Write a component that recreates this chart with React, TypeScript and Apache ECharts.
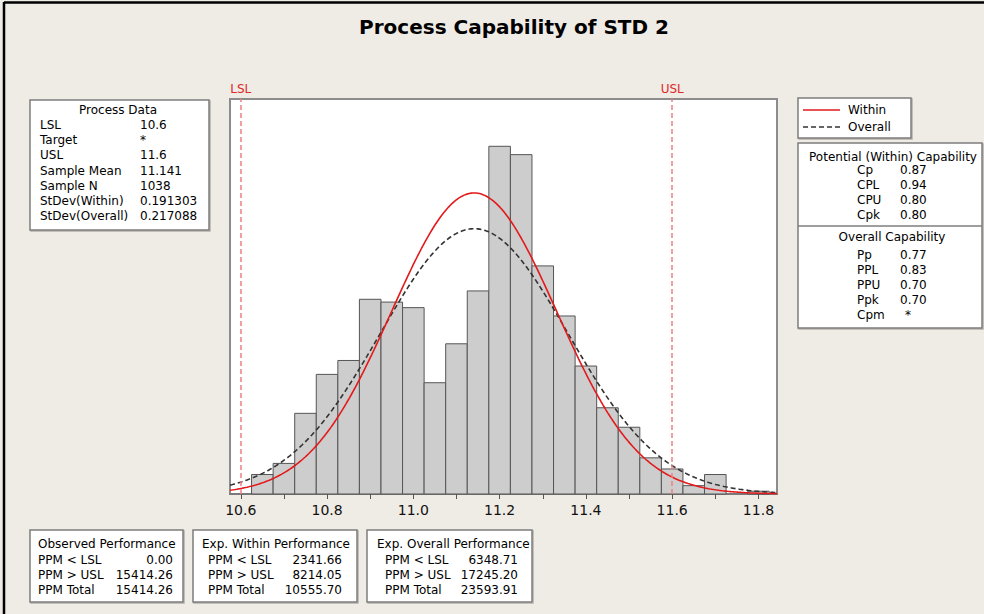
import React, { useEffect, useRef } from "react";
import * as echarts from "echarts";

// ---------- data ----------
const titleText = "Process Capability of STD 2";
const binWidth = 0.05;
const binCenters = [10.65, 10.7, 10.75, 10.8, 10.85, 10.9, 10.95, 11.0, 11.05, 11.1, 11.15, 11.2, 11.25, 11.3, 11.35, 11.4, 11.45, 11.5, 11.55, 11.6, 11.65, 11.7, 11.75, 11.8];
const binCounts = [7, 11, 29, 43, 48, 70, 69, 67, 40, 54, 73, 125, 122, 82, 64, 46, 31, 24, 13, 9, 3, 7, 0, 1];
const lsl = 10.6;
const usl = 11.6;
const sampleMean = 11.141;
const sampleN = 1038;
const stdevWithin = 0.191303;
const stdevOverall = 0.217088;
const xTickValues = [10.6, 10.7, 10.8, 10.9, 11.0, 11.1, 11.2, 11.3, 11.4, 11.5, 11.6, 11.7, 11.8];
const xLabelValues = [10.6, 10.8, 11.0, 11.2, 11.4, 11.6, 11.8];

const processDataLabels = ["LSL", "Target", "USL", "Sample Mean", "Sample N", "StDev(Within)", "StDev(Overall)"];
const processDataValues = ["10.6", "*", "11.6", "11.141", "1038", "0.191303", "0.217088"];
const legendNames = ["Within", "Overall"];
const potentialLabels = ["Cp", "CPL", "CPU", "Cpk"];
const potentialValues = ["0.87", "0.94", "0.80", "0.80"];
const overallLabels = ["Pp", "PPL", "PPU", "Ppk", "Cpm"];
const overallValues = ["0.77", "0.83", "0.70", "0.70", "*"];
const perfTitles = ["Observed Performance", "Exp. Within Performance", "Exp. Overall Performance"];
const perfLabels = ["PPM < LSL", "PPM > USL", "PPM Total"];
const observedPerf = ["0.00", "15414.26", "15414.26"];
const withinPerf = ["2341.66", "8214.05", "10555.70"];
const overallPerf = ["6348.71", "17245.20", "23593.91"];

// ---------- helpers ----------
const X_MIN = 10.575;
const X_MAX = 11.843;
const FONT = "DejaVu Sans";
const TXT = "#000";

function normalCurve(mu: number, s: number): number[][] {
  const k = (sampleN * binWidth) / (s * Math.sqrt(2 * Math.PI));
  const pts: number[][] = [];
  const steps = 320;
  for (let i = 0; i <= steps; i++) {
    const x = X_MIN + ((X_MAX - X_MIN) * i) / steps;
    const z = (x - mu) / s;
    pts.push([x, k * Math.exp(-0.5 * z * z)]);
  }
  return pts;
}

function txt(text: string, x: number, y: number, align: string = "left", extra: any = {}) {
  return {
    type: "text",
    x,
    y,
    silent: true,
    style: {
      text,
      fill: TXT,
      font: `12px '${FONT}'`,
      textAlign: align,
      textVerticalAlign: "middle",
      ...extra,
    },
  };
}

function box(x: number, y: number, w: number, h: number) {
  return {
    type: "rect",
    silent: true,
    shape: { x, y, width: w, height: h },
    style: { fill: "#ffffff", stroke: "#7e7e7e", lineWidth: 1.5, shadowColor: "rgba(0,0,0,0.25)", shadowOffsetX: 1, shadowOffsetY: 1, shadowBlur: 1 },
  };
}

function buildGraphics() {
  const g: any[] = [];
  // outer frame
  g.push({ type: "line", silent: true, shape: { x1: 4, y1: 2.5, x2: 984, y2: 2.5 }, style: { stroke: "#000", lineWidth: 2.5 } });
  g.push({ type: "line", silent: true, shape: { x1: 4, y1: 2, x2: 4, y2: 614 }, style: { stroke: "#000", lineWidth: 2.5 } });

  // Process Data box
  g.push(box(30, 100, 179, 130));
  g.push(txt("Process Data", 118, 110, "center"));
  processDataLabels.forEach((l, i) => {
    const y = 125 + i * 15.17;
    g.push(txt(l, 40, y));
    g.push(txt(processDataValues[i], 140, y));
  });

  // legend box
  g.push(box(798, 98, 113, 40));
  g.push({ type: "line", silent: true, shape: { x1: 803, y1: 110, x2: 840, y2: 110 }, style: { stroke: "#e31a1c", lineWidth: 1.5 } });
  g.push(txt(legendNames[0], 848, 110));
  g.push({ type: "line", silent: true, shape: { x1: 803, y1: 127, x2: 840, y2: 127 }, style: { stroke: "#333", lineWidth: 1.5, lineDash: [5, 3] } });
  g.push(txt(legendNames[1], 848, 127));

  // capability box
  g.push(box(798, 143, 184, 185));
  g.push({ type: "line", silent: true, shape: { x1: 798, y1: 226, x2: 982, y2: 226 }, style: { stroke: "#7e7e7e", lineWidth: 1.5 } });
  g.push(txt("Potential (Within) Capability", 893, 156.5, "center"));
  potentialLabels.forEach((l, i) => {
    const y = 170 + i * 15;
    g.push(txt(l, 857, y));
    g.push(txt(potentialValues[i], 900, y));
  });
  g.push(txt("Overall Capability", 892, 237, "center"));
  overallLabels.forEach((l, i) => {
    const y = 255 + i * 15;
    g.push(txt(l, 857, y));
    const v = overallValues[i];
    g.push(txt(v, v === "*" ? 908 : 900, y, v === "*" ? "center" : "left"));
  });

  // performance boxes
  const boxes = [
    { x: 30, w: 153, hx: 38, lx: 38, vx: 173, vals: observedPerf },
    { x: 193, w: 164, hx: 202, lx: 208, vx: 342, vals: withinPerf },
    { x: 367, w: 165, hx: 377, lx: 385, vx: 518, vals: overallPerf },
  ];
  boxes.forEach((b, bi) => {
    g.push(box(b.x, 530, b.w, 72));
    g.push(txt(perfTitles[bi], b.hx, 544));
    perfLabels.forEach((l, i) => {
      const y = 560 + i * 15;
      g.push(txt(l, b.lx, y));
      g.push(txt(b.vals[i], b.vx, y, "right"));
    });
  });
  return g;
}

export default function App() {
  const ref = useRef<HTMLDivElement>(null);
  useEffect(() => {
    if (!ref.current) return;
    const chart = echarts.init(ref.current, null, { renderer: "svg" });
    const histData = binCenters.map((c, i) => [c, binCounts[i]]);
    const option: any = {
      animation: false,
      backgroundColor: "#efebe5",
      title: {
        text: titleText,
        left: 509,
        textAlign: "center",
        top: 12,
        textStyle: { fontFamily: "DejaVu Sans", fontWeight: "bold", fontSize: 20, color: "#000" },
      },
      grid: {
        left: 230,
        top: 99,
        width: 547,
        height: 395,
        show: true,
        backgroundColor: "#ffffff",
        borderColor: "#8c8c8c",
        borderWidth: 2,
      },
      xAxis: {
        type: "value",
        min: X_MIN,
        max: X_MAX,
        splitLine: { show: false },
        axisLine: { show: true, lineStyle: { color: "#7a7a7a", width: 2 } },
        axisTick: { show: true, customValues: xTickValues, length: 5, lineStyle: { color: "#555" } },
        axisLabel: {
          customValues: xLabelValues,
          formatter: (v: number) => v.toFixed(1),
          fontFamily: FONT,
          fontSize: 14,
          color: "#111",
          margin: 9,
        },
      },
      yAxis: { type: "value", min: 0, max: 142, show: false, splitLine: { show: false } },
      series: [
        {
          type: "custom",
          name: "Histogram",
          data: histData,
          encode: { x: 0, y: 1 },
          z: 2,
          renderItem: (params: any, api: any) => {
            const c = api.value(0);
            const v = api.value(1);
            if (!v) return null;
            const p0 = api.coord([c - binWidth / 2, v]);
            const p1 = api.coord([c + binWidth / 2, 0]);
            return {
              type: "rect",
              shape: { x: p0[0], y: p0[1], width: p1[0] - p0[0], height: p1[1] - p0[1] },
              style: { fill: "#cdcdcd", stroke: "#555555", lineWidth: 1 },
            };
          },
        },
        {
          type: "line",
          name: legendNames[0],
          data: normalCurve(sampleMean, stdevWithin),
          showSymbol: false,
          z: 4,
          lineStyle: { color: "#e31a1c", width: 1.6 },
          markLine: {
            silent: true,
            symbol: "none",
            data: [
              { xAxis: lsl, name: "LSL" },
              { xAxis: usl, name: "USL" },
            ],
            lineStyle: { color: "#ef7f84", type: [5, 3], width: 1.5 },
            label: { show: true, formatter: "{b}", position: "end", color: "#e02828", fontSize: 12, fontFamily: FONT, distance: 4 },
          },
        },
        {
          type: "line",
          name: legendNames[1],
          data: normalCurve(sampleMean, stdevOverall),
          showSymbol: false,
          z: 3,
          lineStyle: { color: "#333333", width: 1.6, type: [5, 3] },
        },
      ],
      graphic: buildGraphics(),
    };
    chart.setOption(option);
    return () => chart.dispose();
  }, []);
  return <div ref={ref} style={{ position: "fixed", left: 0, top: 0, width: 984, height: 614 }} />;
}
